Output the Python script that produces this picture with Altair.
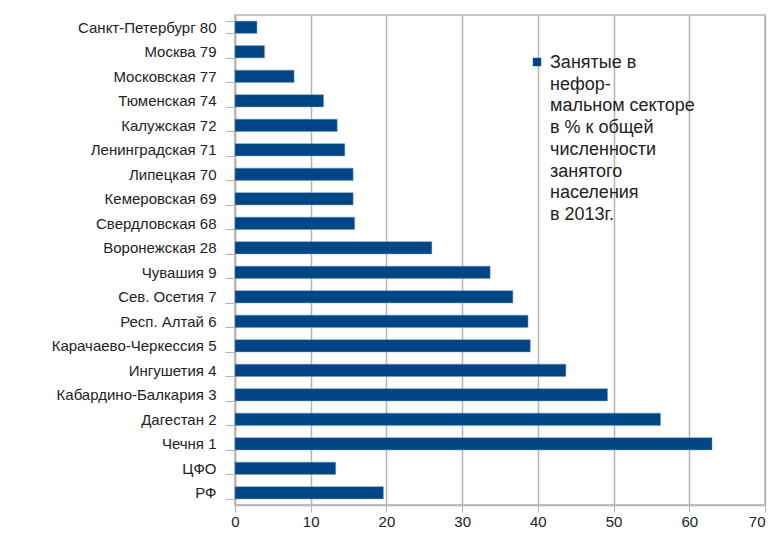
import altair as alt
import pandas as pd

regions = [
    "Санкт-Петербург 80", "Москва 79", "Московская  77", "Тюменская 74",
    "Калужская 72", "Ленинградская 71", "Липецкая 70", "Кемеровская 69",
    "Свердловская 68", "Воронежская 28", "Чувашия 9", "Сев. Осетия 7",
    "Респ. Алтай 6", "Карачаево-Черкессия 5", "Ингушетия 4",
    "Кабардино-Балкария 3", "Дагестан 2", "Чечня 1", "ЦФО", "РФ",
]
values = [2.9, 3.9, 7.8, 11.7, 13.5, 14.5, 15.6, 15.6, 15.8, 26.0,
          33.7, 36.7, 38.7, 39.0, 43.7, 49.2, 56.2, 63.0, 13.3, 19.6]
x_ticks = [0, 10, 20, 30, 40, 50, 60, 70]
legend_text = [" Занятые в", "нефор-", "мальном секторе", "в % к общей",
               "численности", "занятого", "населения", "в 2013г."]

df = pd.DataFrame({"region": regions, "value": values})
FONT = "Liberation Sans"

bars = alt.Chart(df).mark_bar(color="#004586", stroke="#6f95c0", strokeWidth=0.5).encode(
    y=alt.Y("region:N", sort=regions, title=None,
            scale=alt.Scale(paddingInner=0.5, paddingOuter=0.25),
            axis=alt.Axis(labelFont=FONT, labelFontSize=15, labelColor="#222",
                          labelPadding=9, tickBand="extent", tickSize=10,
                          tickColor="#b3b3b3", domainColor="#b3b3b3",
                          domainWidth=1.5, labelLimit=0)),
    x=alt.X("value:Q", title=None,
            scale=alt.Scale(domain=[0, 70], nice=False),
            axis=alt.Axis(values=x_ticks, labelFont=FONT, labelFontSize=15,
                          labelColor="#222", tickSize=7, tickColor="#b3b3b3",
                          domainColor="#b3b3b3", domainWidth=1.5,
                          gridColor="#b3b3b3", gridWidth=1.5, labelPadding=2,
                          labelFlush=False,
                          labelAlign=alt.ExprRef(expr="datum.value == 70 ? 'right' : 'center'"))),
)

legend_df = pd.DataFrame({"label": ["\n".join(legend_text)]})
legend_sq = alt.Chart(legend_df).mark_square(size=70, color="#004586", opacity=1).encode(
    x=alt.value(302), y=alt.value(47))
legend_txt = alt.Chart(legend_df).mark_text(
    align="left", baseline="middle", font=FONT, fontSize=18, color="#222",
    lineHeight=21.7, lineBreak="\n").encode(
    x=alt.value(315), y=alt.value(48), text="label:N")

chart = alt.layer(bars, legend_sq, legend_txt).properties(
    width=530, height=490,
    autosize=alt.AutoSizeParams(type="none"),
    padding={"left": 227, "top": 7, "right": 5, "bottom": 25},
).configure_view(stroke="#b3b3b3", strokeWidth=1.5)

chart.save("out.html", embed_options={"renderer": "svg", "actions": False})
